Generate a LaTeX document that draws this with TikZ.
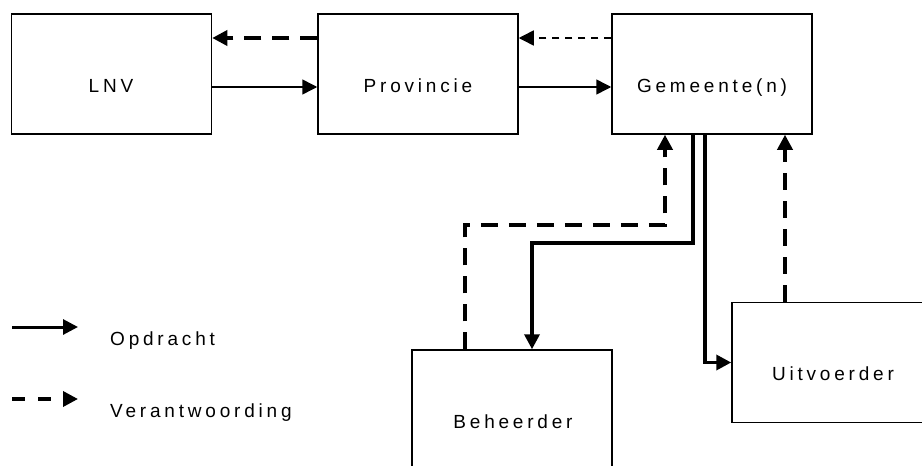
\documentclass[tikz,border=0pt]{standalone}
\usepackage{fontspec}
\setmainfont{Liberation Sans}[LetterSpace=20]
\usetikzlibrary{arrows.meta,calc}
\tikzset{
  box/.style={draw, line width=1.5pt, minimum width=200pt, minimum height=120pt, inner sep=0pt},
  lbl/.style={anchor=base, inner sep=0pt, font=\fontsize{19pt}{22pt}\selectfont},
  leglbl/.style={anchor=base west, inner sep=0pt, font=\fontsize{19pt}{22pt}\selectfont},
  tip/.style={-{Triangle[length=15pt,width=15pt]}},
  thinsolid/.style={tip, line width=1.5pt},
  thinlydashed/.style={tip, line width=1.5pt, dash pattern=on 7pt off 6pt},
  thicksolid/.style={tip, line width=3.5pt},
  thickdashed/.style={tip, line width=3.5pt, dash pattern=on 17pt off 11pt},
}
\begin{document}
\begin{tikzpicture}[x=1pt,y=-1pt]
\useasboundingbox (0,0) rectangle (922,466);
\clip (0,0) rectangle (922,466);
% boxes
\node[box] (LNV) at (111.5,74) {};
\node[box] (Prov) at (418,74) {};
\node[box] (Gem) at (712,74) {};
\node[box] (Beh) at (512,410) {};
\node[box] (Uit) at (832,362.5) {};
% labels
\node[lbl] (LNVt) at (111,92) {LNV};
\node[lbl] (Provt) at (418,92) {Provincie};
\node[lbl] (Gemt) at (712,92) {Gemeente(n)};
\node[lbl] (Beht) at (513,428) {Beheerder};
\node[lbl] (Uitt) at (833,380) {Uitvoerder};
% top row connectors
\draw[thickdashed] ([yshift=36pt]Prov.west) -- ([yshift=36pt]LNV.east);
\draw[thinsolid] ([yshift=-13pt]LNV.east) -- ([yshift=-13pt]Prov.west);
\draw[thinlydashed] ([yshift=36pt]Gem.west) -- ([yshift=36pt]Prov.east);
\draw[thinsolid] ([yshift=-13pt]Prov.east) -- ([yshift=-13pt]Gem.west);
% lower connectors
\coordinate (vb) at (665,225);
\coordinate (vs) at (693,243);
\draw[thickdashed] ([xshift=-47pt]Beh.north) |- (vb) -- ([xshift=-47pt]Gem.south);
\draw[thicksolid] ([xshift=-19pt]Gem.south) -- (vs) -| ([xshift=20pt]Beh.north);
\draw[thicksolid] ([xshift=-7pt]Gem.south) |- (Uit.west);
\draw[thickdashed] ([xshift=-47pt]Uit.north) -- ([xshift=73pt]Gem.south);
% legend
\coordinate (l1s) at (12,327);
\coordinate (l1e) at (78,327);
\coordinate (l2s) at (12,399);
\coordinate (l2e) at (78,399);
\draw[tip, line width=3pt] (l1s) -- (l1e);
\draw[tip, line width=3.5pt, dash pattern=on 13pt off 13pt] (l2s) -- (l2e);
\node[leglbl] (opd) at (110,345) {Opdracht};
\node[leglbl] (ver) at (110,417) {Verantwoording};
\end{tikzpicture}
\end{document}
